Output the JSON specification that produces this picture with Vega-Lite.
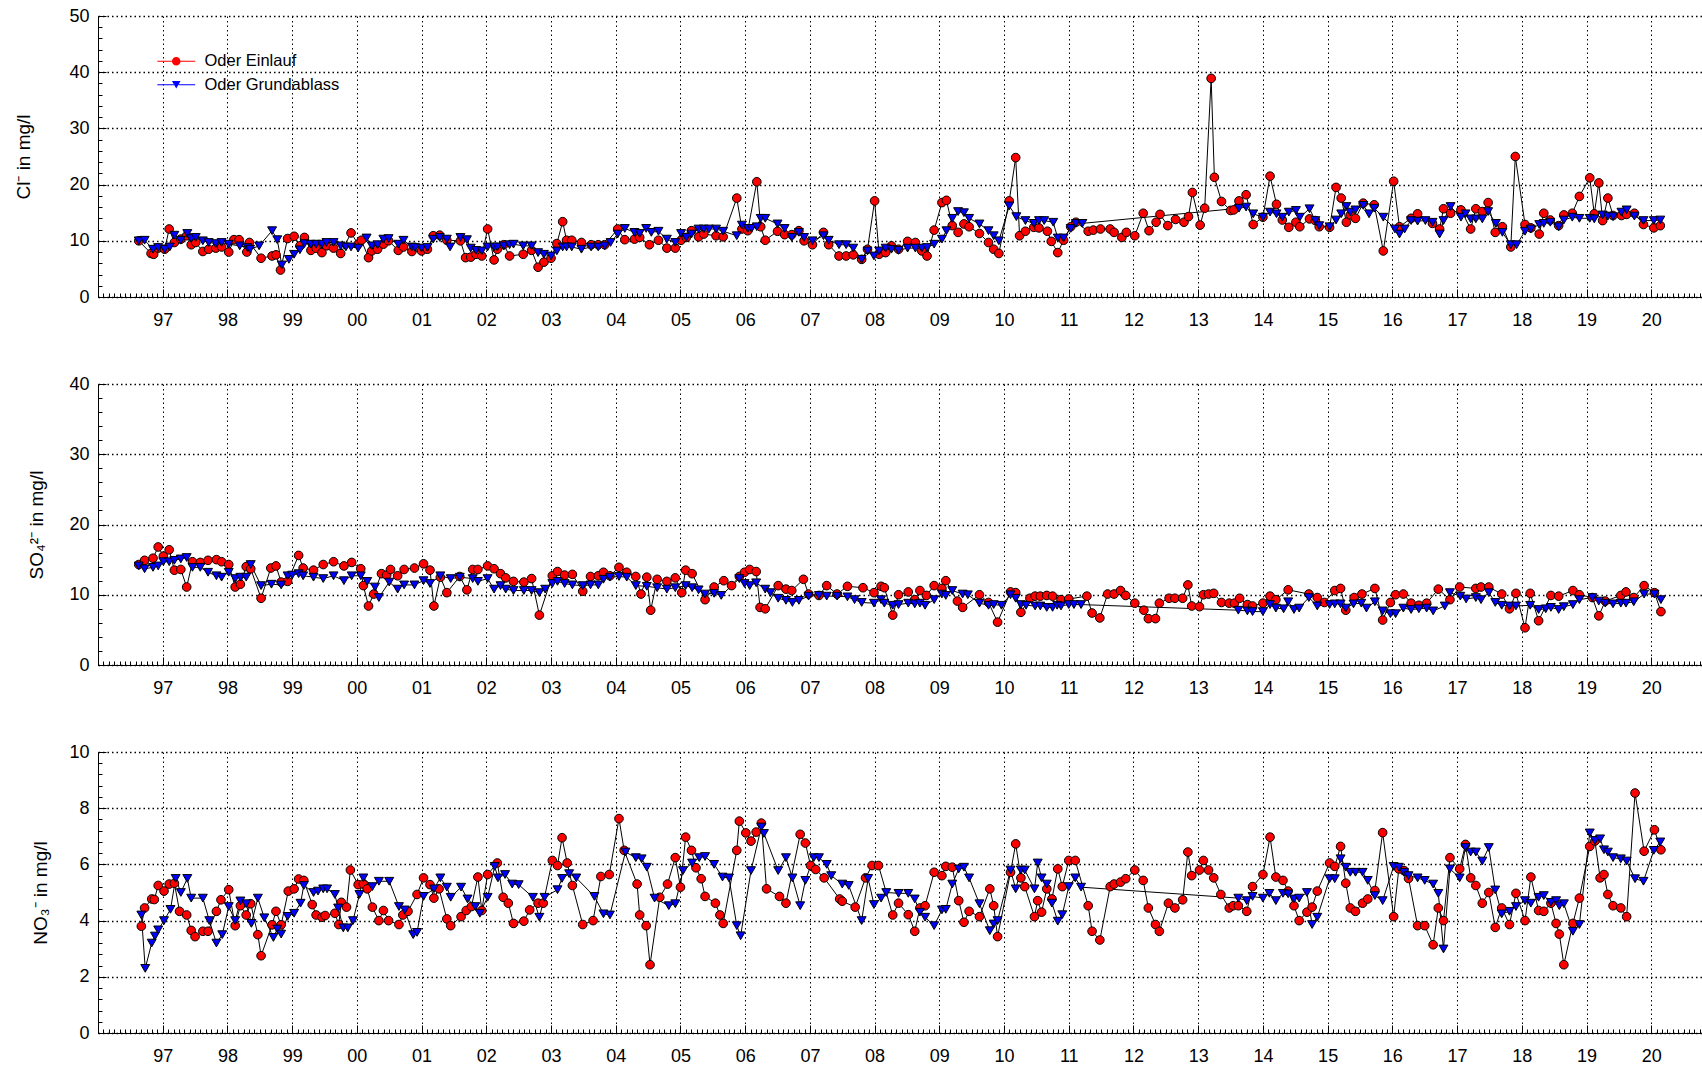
{
"$schema":"https://vega.github.io/schema/vega-lite/v6.json",
"padding":{"left":14,"top":7,"right":0,"bottom":0},
"background":"white",
"config":{"view":{"stroke":null},"font":"Liberation Sans","axis":{"labelColor":"black","titleColor":"black","tickColor":"black","domainColor":"black","labelFontSize":18,"titleFontSize":19,"titleFontWeight":"normal","tickWidth":1,"domainWidth":1}},
"datasets":{
"cl":[
{"s":"E","t":1996.63,"v":10.0},{"s":"E","t":1996.82,"v":7.75},{"s":"E","t":1996.86,"v":7.6},{"s":"E","t":1996.93,"v":8.7},{"s":"E","t":1997.03,"v":8.5},{"s":"E","t":1997.10,"v":12.1},{"s":"E","t":1997.18,"v":9.7},{"s":"E","t":1997.28,"v":10.3},{"s":"E","t":1997.37,"v":10.9},{"s":"E","t":1997.44,"v":9.3},{"s":"E","t":1997.51,"v":9.7},{"s":"E","t":1997.62,"v":8.1},{"s":"E","t":1997.71,"v":8.5},{"s":"E","t":1997.82,"v":8.7},{"s":"E","t":1997.91,"v":8.9},{"s":"E","t":1998.02,"v":8.0},{"s":"E","t":1998.10,"v":10.2},{"s":"E","t":1998.18,"v":10.2},{"s":"E","t":1998.30,"v":8.0},{"s":"E","t":1998.34,"v":9.7},{"s":"E","t":1998.52,"v":6.9},{"s":"E","t":1998.69,"v":7.3},{"s":"E","t":1998.75,"v":7.5},{"s":"E","t":1998.82,"v":4.8},{"s":"E","t":1998.93,"v":10.4},{"s":"E","t":1999.03,"v":10.8},{"s":"E","t":1999.12,"v":9.1},{"s":"E","t":1999.19,"v":10.6},{"s":"E","t":1999.29,"v":8.3},{"s":"E","t":1999.37,"v":8.7},{"s":"E","t":1999.46,"v":7.9},{"s":"E","t":1999.53,"v":9.1},{"s":"E","t":1999.64,"v":8.7},{"s":"E","t":1999.75,"v":7.75},{"s":"E","t":1999.91,"v":11.4},{"s":"E","t":2000.02,"v":9.4},{"s":"E","t":2000.07,"v":10.1},{"s":"E","t":2000.18,"v":7.0},{"s":"E","t":2000.23,"v":8.2},{"s":"E","t":2000.32,"v":8.5},{"s":"E","t":2000.41,"v":9.4},{"s":"E","t":2000.49,"v":10.0},{"s":"E","t":2000.64,"v":8.3},{"s":"E","t":2000.72,"v":8.9},{"s":"E","t":2000.85,"v":8.1},{"s":"E","t":2001.00,"v":8.2},{"s":"E","t":2001.09,"v":8.5},{"s":"E","t":2001.18,"v":10.9},{"s":"E","t":2001.28,"v":11.0},{"s":"E","t":2001.39,"v":10.1},{"s":"E","t":2001.60,"v":10.0},{"s":"E","t":2001.68,"v":7.0},{"s":"E","t":2001.76,"v":7.1},{"s":"E","t":2001.84,"v":7.6},{"s":"E","t":2001.93,"v":7.3},{"s":"E","t":2002.02,"v":12.1},{"s":"E","t":2002.12,"v":6.6},{"s":"E","t":2002.17,"v":8.5},{"s":"E","t":2002.27,"v":9.3},{"s":"E","t":2002.36,"v":7.3},{"s":"E","t":2002.57,"v":7.6},{"s":"E","t":2002.70,"v":8.3},{"s":"E","t":2002.80,"v":5.3},{"s":"E","t":2002.89,"v":6.2},{"s":"E","t":2003.00,"v":6.9},{"s":"E","t":2003.09,"v":9.5},{"s":"E","t":2003.18,"v":13.4},{"s":"E","t":2003.24,"v":10.1},{"s":"E","t":2003.32,"v":10.1},{"s":"E","t":2003.47,"v":9.7},{"s":"E","t":2003.62,"v":9.3},{"s":"E","t":2003.73,"v":9.3},{"s":"E","t":2003.83,"v":9.3},{"s":"E","t":2004.03,"v":12.1},{"s":"E","t":2004.14,"v":10.2},{"s":"E","t":2004.29,"v":10.3},{"s":"E","t":2004.37,"v":10.6},{"s":"E","t":2004.52,"v":9.3},{"s":"E","t":2004.66,"v":10.1},{"s":"E","t":2004.79,"v":8.7},{"s":"E","t":2004.92,"v":8.7},{"s":"E","t":2005.01,"v":10.1},{"s":"E","t":2005.09,"v":10.6},{"s":"E","t":2005.17,"v":11.8},{"s":"E","t":2005.28,"v":10.7},{"s":"E","t":2005.36,"v":11.2},{"s":"E","t":2005.55,"v":10.9},{"s":"E","t":2005.66,"v":10.7},{"s":"E","t":2005.87,"v":17.6},{"s":"E","t":2005.95,"v":12.1},{"s":"E","t":2006.04,"v":11.8},{"s":"E","t":2006.18,"v":20.5},{"s":"E","t":2006.24,"v":12.5},{"s":"E","t":2006.31,"v":10.1},{"s":"E","t":2006.50,"v":11.7},{"s":"E","t":2006.61,"v":11.1},{"s":"E","t":2006.72,"v":11.1},{"s":"E","t":2006.83,"v":11.8},{"s":"E","t":2006.91,"v":10.0},{"s":"E","t":2007.04,"v":9.3},{"s":"E","t":2007.21,"v":11.5},{"s":"E","t":2007.29,"v":9.3},{"s":"E","t":2007.45,"v":7.3},{"s":"E","t":2007.56,"v":7.3},{"s":"E","t":2007.67,"v":7.5},{"s":"E","t":2007.80,"v":6.7},{"s":"E","t":2007.89,"v":8.5},{"s":"E","t":2008.00,"v":17.1},{"s":"E","t":2008.07,"v":7.6},{"s":"E","t":2008.17,"v":7.9},{"s":"E","t":2008.26,"v":9.1},{"s":"E","t":2008.37,"v":8.5},{"s":"E","t":2008.51,"v":9.9},{"s":"E","t":2008.63,"v":9.7},{"s":"E","t":2008.73,"v":8.2},{"s":"E","t":2008.81,"v":7.3},{"s":"E","t":2008.92,"v":11.9},{"s":"E","t":2009.04,"v":16.8},{"s":"E","t":2009.11,"v":17.2},{"s":"E","t":2009.20,"v":12.7},{"s":"E","t":2009.29,"v":11.5},{"s":"E","t":2009.38,"v":13.0},{"s":"E","t":2009.46,"v":12.5},{"s":"E","t":2009.62,"v":11.3},{"s":"E","t":2009.76,"v":9.7},{"s":"E","t":2009.84,"v":8.5},{"s":"E","t":2009.92,"v":7.75},{"s":"E","t":2010.08,"v":17.1},{"s":"E","t":2010.18,"v":24.8},{"s":"E","t":2010.24,"v":10.9},{"s":"E","t":2010.33,"v":11.7},{"s":"E","t":2010.46,"v":12.4},{"s":"E","t":2010.54,"v":12.3},{"s":"E","t":2010.67,"v":11.7},{"s":"E","t":2010.73,"v":9.9},{"s":"E","t":2010.83,"v":7.9},{"s":"E","t":2010.92,"v":10.1},{"s":"E","t":2011.03,"v":12.5},{"s":"E","t":2011.11,"v":13.3},{"s":"E","t":2011.30,"v":11.7},{"s":"E","t":2011.38,"v":11.9},{"s":"E","t":2011.49,"v":12.1},{"s":"E","t":2011.64,"v":12.1},{"s":"E","t":2011.70,"v":11.5},{"s":"E","t":2011.82,"v":10.6},{"s":"E","t":2011.89,"v":11.5},{"s":"E","t":2012.02,"v":10.9},{"s":"E","t":2012.15,"v":14.9},{"s":"E","t":2012.24,"v":11.8},{"s":"E","t":2012.35,"v":13.3},{"s":"E","t":2012.41,"v":14.7},{"s":"E","t":2012.53,"v":12.7},{"s":"E","t":2012.65,"v":13.8},{"s":"E","t":2012.78,"v":13.3},{"s":"E","t":2012.85,"v":14.3},{"s":"E","t":2012.91,"v":18.6},{"s":"E","t":2013.03,"v":12.8},{"s":"E","t":2013.10,"v":15.8},{"s":"E","t":2013.20,"v":38.9},{"s":"E","t":2013.25,"v":21.3},{"s":"E","t":2013.36,"v":17.0},{"s":"E","t":2013.50,"v":15.4},{"s":"E","t":2013.55,"v":15.5},{"s":"E","t":2013.63,"v":17.1},{"s":"E","t":2013.74,"v":18.2},{"s":"E","t":2013.85,"v":12.9},{"s":"E","t":2014.00,"v":14.2},{"s":"E","t":2014.11,"v":21.5},{"s":"E","t":2014.21,"v":16.5},{"s":"E","t":2014.30,"v":13.7},{"s":"E","t":2014.40,"v":12.4},{"s":"E","t":2014.51,"v":13.3},{"s":"E","t":2014.57,"v":12.5},{"s":"E","t":2014.72,"v":13.9},{"s":"E","t":2014.81,"v":13.6},{"s":"E","t":2014.87,"v":12.5},{"s":"E","t":2015.03,"v":12.4},{"s":"E","t":2015.13,"v":19.5},{"s":"E","t":2015.21,"v":17.6},{"s":"E","t":2015.29,"v":13.3},{"s":"E","t":2015.35,"v":14.6},{"s":"E","t":2015.43,"v":14.0},{"s":"E","t":2015.55,"v":16.7},{"s":"E","t":2015.72,"v":16.4},{"s":"E","t":2015.86,"v":8.2},{"s":"E","t":2016.02,"v":20.6},{"s":"E","t":2016.11,"v":12.5},{"s":"E","t":2016.29,"v":14.0},{"s":"E","t":2016.39,"v":14.8},{"s":"E","t":2016.62,"v":13.1},{"s":"E","t":2016.73,"v":12.1},{"s":"E","t":2016.79,"v":15.7},{"s":"E","t":2016.90,"v":14.9},{"s":"E","t":2017.06,"v":15.5},{"s":"E","t":2017.21,"v":12.1},{"s":"E","t":2017.29,"v":15.7},{"s":"E","t":2017.39,"v":15.2},{"s":"E","t":2017.48,"v":16.8},{"s":"E","t":2017.59,"v":11.5},{"s":"E","t":2017.70,"v":12.5},{"s":"E","t":2017.83,"v":8.9},{"s":"E","t":2017.90,"v":25.0},{"s":"E","t":2018.05,"v":12.9},{"s":"E","t":2018.14,"v":12.3},{"s":"E","t":2018.27,"v":11.2},{"s":"E","t":2018.34,"v":14.9},{"s":"E","t":2018.44,"v":13.7},{"s":"E","t":2018.57,"v":12.7},{"s":"E","t":2018.65,"v":14.6},{"s":"E","t":2018.78,"v":14.9},{"s":"E","t":2018.89,"v":17.9},{"s":"E","t":2019.05,"v":21.2},{"s":"E","t":2019.12,"v":14.8},{"s":"E","t":2019.19,"v":20.3},{"s":"E","t":2019.25,"v":13.6},{"s":"E","t":2019.33,"v":17.6},{"s":"E","t":2019.41,"v":14.5},{"s":"E","t":2019.54,"v":14.5},{"s":"E","t":2019.62,"v":14.7},{"s":"E","t":2019.74,"v":14.9},{"s":"E","t":2019.88,"v":12.9},{"s":"E","t":2020.04,"v":12.3},{"s":"E","t":2020.14,"v":12.7},
{"s":"G","t":1996.63,"v":10.0},{"s":"G","t":1996.72,"v":10.1},{"s":"G","t":1996.85,"v":8.5},{"s":"G","t":1996.93,"v":8.8},{"s":"G","t":1997.03,"v":8.5},{"s":"G","t":1997.11,"v":8.9},{"s":"G","t":1997.18,"v":11.0},{"s":"G","t":1997.28,"v":10.1},{"s":"G","t":1997.38,"v":11.3},{"s":"G","t":1997.44,"v":10.4},{"s":"G","t":1997.51,"v":10.6},{"s":"G","t":1997.62,"v":10.0},{"s":"G","t":1997.71,"v":9.7},{"s":"G","t":1997.82,"v":9.5},{"s":"G","t":1997.91,"v":9.7},{"s":"G","t":1998.02,"v":9.4},{"s":"G","t":1998.19,"v":9.1},{"s":"G","t":1998.31,"v":8.8},{"s":"G","t":1998.35,"v":8.5},{"s":"G","t":1998.49,"v":9.1},{"s":"G","t":1998.69,"v":11.8},{"s":"G","t":1998.77,"v":10.2},{"s":"G","t":1998.84,"v":5.7},{"s":"G","t":1998.95,"v":6.7},{"s":"G","t":1999.03,"v":7.6},{"s":"G","t":1999.12,"v":8.4},{"s":"G","t":1999.19,"v":9.5},{"s":"G","t":1999.29,"v":9.4},{"s":"G","t":1999.37,"v":9.4},{"s":"G","t":1999.46,"v":9.4},{"s":"G","t":1999.53,"v":9.7},{"s":"G","t":1999.64,"v":9.7},{"s":"G","t":1999.75,"v":9.1},{"s":"G","t":1999.83,"v":8.9},{"s":"G","t":1999.91,"v":8.9},{"s":"G","t":2000.02,"v":8.7},{"s":"G","t":2000.15,"v":10.5},{"s":"G","t":2000.23,"v":9.1},{"s":"G","t":2000.32,"v":9.3},{"s":"G","t":2000.41,"v":10.3},{"s":"G","t":2000.49,"v":10.4},{"s":"G","t":2000.64,"v":9.4},{"s":"G","t":2000.72,"v":10.1},{"s":"G","t":2000.85,"v":8.9},{"s":"G","t":2000.90,"v":8.8},{"s":"G","t":2001.00,"v":8.7},{"s":"G","t":2001.09,"v":8.8},{"s":"G","t":2001.18,"v":10.3},{"s":"G","t":2001.28,"v":10.6},{"s":"G","t":2001.39,"v":10.3},{"s":"G","t":2001.44,"v":8.9},{"s":"G","t":2001.60,"v":10.6},{"s":"G","t":2001.70,"v":10.2},{"s":"G","t":2001.76,"v":8.7},{"s":"G","t":2001.84,"v":8.3},{"s":"G","t":2001.93,"v":8.2},{"s":"G","t":2002.02,"v":8.9},{"s":"G","t":2002.12,"v":8.9},{"s":"G","t":2002.17,"v":8.9},{"s":"G","t":2002.27,"v":9.1},{"s":"G","t":2002.36,"v":9.3},{"s":"G","t":2002.42,"v":9.4},{"s":"G","t":2002.57,"v":9.1},{"s":"G","t":2002.70,"v":9.1},{"s":"G","t":2002.80,"v":7.9},{"s":"G","t":2002.89,"v":7.6},{"s":"G","t":2003.00,"v":7.3},{"s":"G","t":2003.09,"v":8.2},{"s":"G","t":2003.18,"v":8.9},{"s":"G","t":2003.24,"v":8.9},{"s":"G","t":2003.32,"v":8.9},{"s":"G","t":2003.47,"v":8.5},{"s":"G","t":2003.62,"v":8.9},{"s":"G","t":2003.73,"v":8.9},{"s":"G","t":2003.83,"v":9.1},{"s":"G","t":2003.92,"v":9.7},{"s":"G","t":2004.03,"v":11.2},{"s":"G","t":2004.14,"v":12.2},{"s":"G","t":2004.29,"v":11.5},{"s":"G","t":2004.37,"v":11.3},{"s":"G","t":2004.47,"v":12.2},{"s":"G","t":2004.55,"v":11.5},{"s":"G","t":2004.66,"v":11.7},{"s":"G","t":2004.79,"v":10.3},{"s":"G","t":2004.92,"v":9.7},{"s":"G","t":2005.01,"v":11.3},{"s":"G","t":2005.09,"v":10.6},{"s":"G","t":2005.17,"v":11.2},{"s":"G","t":2005.28,"v":12.1},{"s":"G","t":2005.36,"v":12.1},{"s":"G","t":2005.44,"v":12.1},{"s":"G","t":2005.55,"v":12.1},{"s":"G","t":2005.66,"v":11.7},{"s":"G","t":2005.87,"v":10.9},{"s":"G","t":2005.95,"v":12.8},{"s":"G","t":2006.04,"v":12.2},{"s":"G","t":2006.10,"v":12.2},{"s":"G","t":2006.18,"v":12.5},{"s":"G","t":2006.24,"v":14.0},{"s":"G","t":2006.31,"v":14.0},{"s":"G","t":2006.50,"v":13.0},{"s":"G","t":2006.61,"v":12.2},{"s":"G","t":2006.72,"v":10.6},{"s":"G","t":2006.83,"v":11.5},{"s":"G","t":2006.91,"v":10.6},{"s":"G","t":2007.04,"v":10.0},{"s":"G","t":2007.21,"v":10.9},{"s":"G","t":2007.29,"v":10.1},{"s":"G","t":2007.45,"v":9.3},{"s":"G","t":2007.56,"v":9.3},{"s":"G","t":2007.67,"v":8.7},{"s":"G","t":2007.80,"v":6.7},{"s":"G","t":2007.89,"v":8.2},{"s":"G","t":2007.99,"v":7.3},{"s":"G","t":2008.07,"v":8.2},{"s":"G","t":2008.17,"v":8.7},{"s":"G","t":2008.26,"v":8.5},{"s":"G","t":2008.37,"v":8.3},{"s":"G","t":2008.51,"v":8.7},{"s":"G","t":2008.63,"v":8.7},{"s":"G","t":2008.73,"v":8.7},{"s":"G","t":2008.81,"v":8.8},{"s":"G","t":2008.92,"v":9.4},{"s":"G","t":2009.04,"v":10.3},{"s":"G","t":2009.11,"v":11.8},{"s":"G","t":2009.20,"v":14.0},{"s":"G","t":2009.29,"v":15.2},{"s":"G","t":2009.38,"v":15.0},{"s":"G","t":2009.46,"v":14.0},{"s":"G","t":2009.62,"v":13.0},{"s":"G","t":2009.76,"v":11.8},{"s":"G","t":2009.84,"v":10.9},{"s":"G","t":2009.92,"v":10.0},{"s":"G","t":2010.08,"v":16.2},{"s":"G","t":2010.19,"v":14.3},{"s":"G","t":2010.33,"v":13.6},{"s":"G","t":2010.46,"v":13.1},{"s":"G","t":2010.54,"v":13.6},{"s":"G","t":2010.62,"v":13.6},{"s":"G","t":2010.76,"v":13.3},{"s":"G","t":2010.83,"v":10.5},{"s":"G","t":2010.92,"v":10.5},{"s":"G","t":2011.03,"v":12.2},{"s":"G","t":2011.11,"v":13.1},{"s":"G","t":2011.21,"v":13.1},{"s":"G","t":2013.63,"v":15.8},{"s":"G","t":2013.74,"v":16.0},{"s":"G","t":2013.85,"v":14.8},{"s":"G","t":2014.00,"v":14.2},{"s":"G","t":2014.11,"v":15.1},{"s":"G","t":2014.21,"v":14.8},{"s":"G","t":2014.30,"v":14.2},{"s":"G","t":2014.40,"v":15.1},{"s":"G","t":2014.51,"v":15.4},{"s":"G","t":2014.57,"v":14.2},{"s":"G","t":2014.72,"v":15.7},{"s":"G","t":2014.81,"v":13.6},{"s":"G","t":2014.87,"v":12.7},{"s":"G","t":2015.03,"v":12.5},{"s":"G","t":2015.13,"v":13.7},{"s":"G","t":2015.21,"v":14.8},{"s":"G","t":2015.29,"v":16.1},{"s":"G","t":2015.35,"v":15.1},{"s":"G","t":2015.43,"v":15.5},{"s":"G","t":2015.55,"v":16.3},{"s":"G","t":2015.64,"v":14.8},{"s":"G","t":2015.72,"v":15.8},{"s":"G","t":2015.86,"v":14.2},{"s":"G","t":2016.04,"v":12.1},{"s":"G","t":2016.11,"v":11.2},{"s":"G","t":2016.19,"v":12.1},{"s":"G","t":2016.29,"v":13.6},{"s":"G","t":2016.39,"v":13.5},{"s":"G","t":2016.51,"v":13.6},{"s":"G","t":2016.62,"v":13.3},{"s":"G","t":2016.73,"v":11.2},{"s":"G","t":2016.79,"v":13.6},{"s":"G","t":2016.90,"v":16.1},{"s":"G","t":2017.06,"v":14.2},{"s":"G","t":2017.13,"v":14.8},{"s":"G","t":2017.21,"v":13.9},{"s":"G","t":2017.29,"v":13.9},{"s":"G","t":2017.39,"v":13.9},{"s":"G","t":2017.48,"v":15.2},{"s":"G","t":2017.60,"v":13.1},{"s":"G","t":2017.70,"v":11.5},{"s":"G","t":2017.83,"v":9.3},{"s":"G","t":2017.92,"v":9.3},{"s":"G","t":2018.05,"v":11.7},{"s":"G","t":2018.14,"v":12.1},{"s":"G","t":2018.27,"v":12.9},{"s":"G","t":2018.34,"v":13.1},{"s":"G","t":2018.44,"v":13.3},{"s":"G","t":2018.57,"v":12.5},{"s":"G","t":2018.65,"v":13.7},{"s":"G","t":2018.78,"v":14.2},{"s":"G","t":2018.89,"v":14.0},{"s":"G","t":2019.05,"v":14.0},{"s":"G","t":2019.12,"v":13.9},{"s":"G","t":2019.25,"v":14.6},{"s":"G","t":2019.33,"v":14.4},{"s":"G","t":2019.41,"v":14.3},{"s":"G","t":2019.54,"v":15.1},{"s":"G","t":2019.62,"v":15.5},{"s":"G","t":2019.74,"v":14.4},{"s":"G","t":2019.88,"v":13.6},{"s":"G","t":2020.04,"v":13.6},{"s":"G","t":2020.14,"v":13.7}
],
"so":[
{"s":"E","t":1996.63,"v":14.3},{"s":"E","t":1996.72,"v":14.9},{"s":"E","t":1996.85,"v":15.2},{"s":"E","t":1996.93,"v":16.8},{"s":"E","t":1997.01,"v":15.5},{"s":"E","t":1997.10,"v":16.4},{"s":"E","t":1997.18,"v":13.5},{"s":"E","t":1997.28,"v":13.6},{"s":"E","t":1997.37,"v":11.1},{"s":"E","t":1997.46,"v":14.7},{"s":"E","t":1997.58,"v":14.6},{"s":"E","t":1997.70,"v":14.9},{"s":"E","t":1997.83,"v":15.0},{"s":"E","t":1997.91,"v":14.7},{"s":"E","t":1998.02,"v":14.3},{"s":"E","t":1998.12,"v":11.1},{"s":"E","t":1998.20,"v":11.5},{"s":"E","t":1998.29,"v":14.0},{"s":"E","t":1998.36,"v":13.7},{"s":"E","t":1998.52,"v":9.5},{"s":"E","t":1998.67,"v":13.8},{"s":"E","t":1998.75,"v":14.1},{"s":"E","t":1998.83,"v":11.8},{"s":"E","t":1998.93,"v":11.9},{"s":"E","t":1999.10,"v":15.6},{"s":"E","t":1999.17,"v":13.8},{"s":"E","t":1999.33,"v":13.5},{"s":"E","t":1999.48,"v":14.3},{"s":"E","t":1999.64,"v":14.7},{"s":"E","t":1999.80,"v":14.1},{"s":"E","t":1999.92,"v":14.6},{"s":"E","t":2000.06,"v":13.7},{"s":"E","t":2000.10,"v":11.3},{"s":"E","t":2000.18,"v":8.4},{"s":"E","t":2000.26,"v":10.1},{"s":"E","t":2000.38,"v":13.0},{"s":"E","t":2000.46,"v":12.8},{"s":"E","t":2000.52,"v":13.6},{"s":"E","t":2000.63,"v":12.7},{"s":"E","t":2000.73,"v":13.6},{"s":"E","t":2000.89,"v":13.8},{"s":"E","t":2001.03,"v":14.4},{"s":"E","t":2001.13,"v":13.5},{"s":"E","t":2001.19,"v":8.4},{"s":"E","t":2001.29,"v":12.5},{"s":"E","t":2001.39,"v":10.3},{"s":"E","t":2001.59,"v":12.6},{"s":"E","t":2001.70,"v":10.7},{"s":"E","t":2001.79,"v":13.6},{"s":"E","t":2001.87,"v":13.6},{"s":"E","t":2002.02,"v":14.1},{"s":"E","t":2002.12,"v":13.7},{"s":"E","t":2002.22,"v":13.0},{"s":"E","t":2002.30,"v":12.4},{"s":"E","t":2002.42,"v":11.9},{"s":"E","t":2002.58,"v":11.8},{"s":"E","t":2002.70,"v":12.3},{"s":"E","t":2002.82,"v":7.1},{"s":"E","t":2003.02,"v":12.7},{"s":"E","t":2003.10,"v":13.3},{"s":"E","t":2003.21,"v":12.8},{"s":"E","t":2003.33,"v":12.9},{"s":"E","t":2003.49,"v":10.5},{"s":"E","t":2003.61,"v":12.6},{"s":"E","t":2003.73,"v":12.7},{"s":"E","t":2003.81,"v":13.2},{"s":"E","t":2003.91,"v":12.7},{"s":"E","t":2004.05,"v":13.9},{"s":"E","t":2004.17,"v":13.2},{"s":"E","t":2004.31,"v":12.6},{"s":"E","t":2004.39,"v":10.1},{"s":"E","t":2004.48,"v":12.5},{"s":"E","t":2004.54,"v":7.8},{"s":"E","t":2004.64,"v":12.2},{"s":"E","t":2004.79,"v":11.9},{"s":"E","t":2004.92,"v":12.4},{"s":"E","t":2005.02,"v":10.3},{"s":"E","t":2005.08,"v":13.5},{"s":"E","t":2005.18,"v":13.0},{"s":"E","t":2005.38,"v":9.3},{"s":"E","t":2005.52,"v":11.1},{"s":"E","t":2005.67,"v":12.0},{"s":"E","t":2005.79,"v":11.3},{"s":"E","t":2005.91,"v":12.6},{"s":"E","t":2005.99,"v":13.2},{"s":"E","t":2006.07,"v":13.6},{"s":"E","t":2006.17,"v":13.3},{"s":"E","t":2006.23,"v":8.2},{"s":"E","t":2006.31,"v":8.0},{"s":"E","t":2006.51,"v":11.3},{"s":"E","t":2006.63,"v":10.8},{"s":"E","t":2006.72,"v":10.6},{"s":"E","t":2006.90,"v":12.2},{"s":"E","t":2006.98,"v":10.1},{"s":"E","t":2007.14,"v":9.9},{"s":"E","t":2007.26,"v":11.3},{"s":"E","t":2007.42,"v":10.1},{"s":"E","t":2007.58,"v":11.2},{"s":"E","t":2007.82,"v":11.0},{"s":"E","t":2007.99,"v":10.3},{"s":"E","t":2008.10,"v":11.2},{"s":"E","t":2008.15,"v":11.0},{"s":"E","t":2008.28,"v":7.1},{"s":"E","t":2008.37,"v":10.0},{"s":"E","t":2008.52,"v":10.4},{"s":"E","t":2008.62,"v":9.3},{"s":"E","t":2008.70,"v":10.6},{"s":"E","t":2008.80,"v":9.9},{"s":"E","t":2008.92,"v":11.3},{"s":"E","t":2009.04,"v":10.9},{"s":"E","t":2009.10,"v":12.0},{"s":"E","t":2009.28,"v":9.1},{"s":"E","t":2009.36,"v":8.2},{"s":"E","t":2009.62,"v":10.0},{"s":"E","t":2009.76,"v":8.9},{"s":"E","t":2009.90,"v":6.1},{"s":"E","t":2010.10,"v":10.4},{"s":"E","t":2010.18,"v":10.3},{"s":"E","t":2010.26,"v":7.5},{"s":"E","t":2010.40,"v":9.5},{"s":"E","t":2010.48,"v":9.8},{"s":"E","t":2010.56,"v":9.8},{"s":"E","t":2010.66,"v":9.9},{"s":"E","t":2010.75,"v":9.8},{"s":"E","t":2010.88,"v":9.3},{"s":"E","t":2011.00,"v":9.4},{"s":"E","t":2011.28,"v":9.8},{"s":"E","t":2011.36,"v":7.4},{"s":"E","t":2011.48,"v":6.7},{"s":"E","t":2011.60,"v":10.1},{"s":"E","t":2011.70,"v":10.1},{"s":"E","t":2011.80,"v":10.6},{"s":"E","t":2011.88,"v":9.9},{"s":"E","t":2012.02,"v":8.8},{"s":"E","t":2012.16,"v":7.8},{"s":"E","t":2012.23,"v":6.6},{"s":"E","t":2012.34,"v":6.6},{"s":"E","t":2012.40,"v":8.8},{"s":"E","t":2012.55,"v":9.5},{"s":"E","t":2012.64,"v":9.5},{"s":"E","t":2012.76,"v":9.5},{"s":"E","t":2012.84,"v":11.4},{"s":"E","t":2012.90,"v":8.4},{"s":"E","t":2013.02,"v":8.3},{"s":"E","t":2013.08,"v":10.0},{"s":"E","t":2013.16,"v":10.1},{"s":"E","t":2013.24,"v":10.2},{"s":"E","t":2013.36,"v":8.9},{"s":"E","t":2013.48,"v":8.8},{"s":"E","t":2013.56,"v":8.8},{"s":"E","t":2013.64,"v":9.5},{"s":"E","t":2013.76,"v":8.6},{"s":"E","t":2013.84,"v":8.4},{"s":"E","t":2014.00,"v":8.8},{"s":"E","t":2014.11,"v":9.8},{"s":"E","t":2014.20,"v":9.3},{"s":"E","t":2014.39,"v":10.7},{"s":"E","t":2014.71,"v":10.1},{"s":"E","t":2014.84,"v":9.6},{"s":"E","t":2014.95,"v":8.9},{"s":"E","t":2015.11,"v":10.6},{"s":"E","t":2015.20,"v":10.9},{"s":"E","t":2015.28,"v":7.8},{"s":"E","t":2015.41,"v":9.6},{"s":"E","t":2015.53,"v":10.1},{"s":"E","t":2015.73,"v":10.9},{"s":"E","t":2015.85,"v":6.4},{"s":"E","t":2015.97,"v":8.9},{"s":"E","t":2016.05,"v":10.0},{"s":"E","t":2016.17,"v":10.1},{"s":"E","t":2016.29,"v":8.8},{"s":"E","t":2016.41,"v":8.5},{"s":"E","t":2016.53,"v":8.8},{"s":"E","t":2016.71,"v":10.8},{"s":"E","t":2016.89,"v":9.3},{"s":"E","t":2017.04,"v":11.1},{"s":"E","t":2017.29,"v":10.9},{"s":"E","t":2017.37,"v":11.1},{"s":"E","t":2017.49,"v":11.1},{"s":"E","t":2017.69,"v":10.1},{"s":"E","t":2017.81,"v":8.0},{"s":"E","t":2017.91,"v":10.2},{"s":"E","t":2018.05,"v":5.3},{"s":"E","t":2018.13,"v":10.2},{"s":"E","t":2018.26,"v":6.3},{"s":"E","t":2018.45,"v":9.9},{"s":"E","t":2018.57,"v":9.8},{"s":"E","t":2018.79,"v":10.6},{"s":"E","t":2018.89,"v":10.0},{"s":"E","t":2019.09,"v":9.6},{"s":"E","t":2019.19,"v":7.0},{"s":"E","t":2019.29,"v":9.1},{"s":"E","t":2019.53,"v":9.9},{"s":"E","t":2019.61,"v":10.4},{"s":"E","t":2019.73,"v":9.6},{"s":"E","t":2019.89,"v":11.3},{"s":"E","t":2020.05,"v":10.3},{"s":"E","t":2020.15,"v":7.6},
{"s":"G","t":1996.63,"v":14.1},{"s":"G","t":1996.72,"v":13.7},{"s":"G","t":1996.85,"v":13.9},{"s":"G","t":1996.93,"v":14.1},{"s":"G","t":1997.01,"v":14.7},{"s":"G","t":1997.10,"v":14.7},{"s":"G","t":1997.18,"v":14.9},{"s":"G","t":1997.28,"v":15.1},{"s":"G","t":1997.37,"v":15.3},{"s":"G","t":1997.46,"v":13.9},{"s":"G","t":1997.58,"v":13.9},{"s":"G","t":1997.70,"v":13.2},{"s":"G","t":1997.83,"v":12.7},{"s":"G","t":1997.91,"v":12.5},{"s":"G","t":1998.02,"v":13.2},{"s":"G","t":1998.12,"v":12.3},{"s":"G","t":1998.20,"v":12.5},{"s":"G","t":1998.29,"v":12.5},{"s":"G","t":1998.36,"v":14.3},{"s":"G","t":1998.52,"v":11.3},{"s":"G","t":1998.68,"v":11.5},{"s":"G","t":1998.83,"v":11.4},{"s":"G","t":1998.93,"v":12.7},{"s":"G","t":1999.00,"v":12.8},{"s":"G","t":1999.10,"v":13.0},{"s":"G","t":1999.17,"v":12.7},{"s":"G","t":1999.33,"v":12.5},{"s":"G","t":1999.48,"v":12.3},{"s":"G","t":1999.64,"v":12.7},{"s":"G","t":1999.80,"v":12.0},{"s":"G","t":1999.92,"v":12.7},{"s":"G","t":2000.06,"v":12.7},{"s":"G","t":2000.16,"v":11.9},{"s":"G","t":2000.28,"v":11.1},{"s":"G","t":2000.34,"v":9.6},{"s":"G","t":2000.50,"v":11.8},{"s":"G","t":2000.63,"v":10.8},{"s":"G","t":2000.73,"v":11.4},{"s":"G","t":2000.89,"v":11.4},{"s":"G","t":2001.03,"v":12.0},{"s":"G","t":2001.13,"v":11.6},{"s":"G","t":2001.29,"v":12.7},{"s":"G","t":2001.45,"v":12.3},{"s":"G","t":2001.59,"v":12.5},{"s":"G","t":2001.79,"v":12.3},{"s":"G","t":2001.87,"v":11.9},{"s":"G","t":2002.02,"v":12.3},{"s":"G","t":2002.12,"v":10.8},{"s":"G","t":2002.22,"v":11.3},{"s":"G","t":2002.30,"v":10.8},{"s":"G","t":2002.42,"v":10.6},{"s":"G","t":2002.58,"v":10.6},{"s":"G","t":2002.70,"v":10.6},{"s":"G","t":2002.82,"v":10.3},{"s":"G","t":2002.91,"v":10.8},{"s":"G","t":2003.02,"v":11.6},{"s":"G","t":2003.10,"v":11.9},{"s":"G","t":2003.21,"v":11.6},{"s":"G","t":2003.33,"v":11.4},{"s":"G","t":2003.49,"v":11.3},{"s":"G","t":2003.61,"v":11.4},{"s":"G","t":2003.73,"v":11.4},{"s":"G","t":2003.81,"v":12.2},{"s":"G","t":2003.91,"v":12.5},{"s":"G","t":2004.05,"v":12.6},{"s":"G","t":2004.17,"v":12.5},{"s":"G","t":2004.31,"v":11.3},{"s":"G","t":2004.48,"v":11.2},{"s":"G","t":2004.64,"v":11.0},{"s":"G","t":2004.79,"v":10.8},{"s":"G","t":2004.92,"v":11.0},{"s":"G","t":2005.08,"v":11.3},{"s":"G","t":2005.18,"v":11.0},{"s":"G","t":2005.28,"v":10.7},{"s":"G","t":2005.38,"v":10.1},{"s":"G","t":2005.52,"v":10.2},{"s":"G","t":2005.63,"v":9.9},{"s":"G","t":2005.91,"v":12.3},{"s":"G","t":2005.99,"v":11.6},{"s":"G","t":2006.07,"v":11.3},{"s":"G","t":2006.17,"v":11.7},{"s":"G","t":2006.31,"v":10.8},{"s":"G","t":2006.39,"v":10.3},{"s":"G","t":2006.51,"v":9.5},{"s":"G","t":2006.63,"v":9.2},{"s":"G","t":2006.73,"v":8.9},{"s":"G","t":2006.83,"v":9.2},{"s":"G","t":2006.98,"v":9.8},{"s":"G","t":2007.14,"v":9.9},{"s":"G","t":2007.26,"v":9.8},{"s":"G","t":2007.42,"v":9.8},{"s":"G","t":2007.58,"v":9.7},{"s":"G","t":2007.69,"v":9.3},{"s":"G","t":2007.80,"v":8.9},{"s":"G","t":2007.99,"v":8.8},{"s":"G","t":2008.10,"v":9.3},{"s":"G","t":2008.15,"v":8.8},{"s":"G","t":2008.28,"v":8.5},{"s":"G","t":2008.37,"v":8.6},{"s":"G","t":2008.52,"v":8.8},{"s":"G","t":2008.62,"v":8.7},{"s":"G","t":2008.70,"v":8.8},{"s":"G","t":2008.78,"v":8.5},{"s":"G","t":2008.92,"v":9.3},{"s":"G","t":2009.04,"v":10.1},{"s":"G","t":2009.10,"v":9.9},{"s":"G","t":2009.20,"v":10.6},{"s":"G","t":2009.36,"v":10.1},{"s":"G","t":2009.44,"v":10.0},{"s":"G","t":2009.62,"v":8.8},{"s":"G","t":2009.76,"v":8.5},{"s":"G","t":2009.84,"v":8.6},{"s":"G","t":2009.96,"v":8.5},{"s":"G","t":2010.10,"v":10.0},{"s":"G","t":2010.18,"v":9.5},{"s":"G","t":2010.26,"v":8.6},{"s":"G","t":2010.34,"v":8.5},{"s":"G","t":2010.48,"v":8.4},{"s":"G","t":2010.56,"v":8.4},{"s":"G","t":2010.66,"v":8.2},{"s":"G","t":2010.75,"v":8.2},{"s":"G","t":2010.82,"v":8.5},{"s":"G","t":2010.88,"v":8.4},{"s":"G","t":2011.00,"v":8.6},{"s":"G","t":2011.08,"v":8.6},{"s":"G","t":2011.19,"v":8.6},{"s":"G","t":2013.62,"v":7.8},{"s":"G","t":2013.76,"v":7.7},{"s":"G","t":2013.84,"v":7.6},{"s":"G","t":2014.00,"v":7.6},{"s":"G","t":2014.11,"v":8.6},{"s":"G","t":2014.20,"v":8.1},{"s":"G","t":2014.32,"v":8.0},{"s":"G","t":2014.39,"v":9.0},{"s":"G","t":2014.48,"v":7.9},{"s":"G","t":2014.56,"v":8.1},{"s":"G","t":2014.71,"v":9.6},{"s":"G","t":2014.84,"v":8.4},{"s":"G","t":2015.03,"v":8.6},{"s":"G","t":2015.11,"v":8.7},{"s":"G","t":2015.20,"v":8.7},{"s":"G","t":2015.28,"v":8.1},{"s":"G","t":2015.40,"v":8.7},{"s":"G","t":2015.52,"v":8.8},{"s":"G","t":2015.60,"v":8.1},{"s":"G","t":2015.73,"v":9.0},{"s":"G","t":2015.85,"v":7.7},{"s":"G","t":2015.97,"v":7.3},{"s":"G","t":2016.05,"v":7.3},{"s":"G","t":2016.17,"v":8.1},{"s":"G","t":2016.29,"v":7.9},{"s":"G","t":2016.41,"v":8.0},{"s":"G","t":2016.53,"v":8.1},{"s":"G","t":2016.63,"v":7.7},{"s":"G","t":2016.81,"v":8.4},{"s":"G","t":2016.89,"v":10.3},{"s":"G","t":2017.05,"v":9.8},{"s":"G","t":2017.14,"v":9.4},{"s":"G","t":2017.29,"v":9.6},{"s":"G","t":2017.37,"v":9.3},{"s":"G","t":2017.49,"v":10.3},{"s":"G","t":2017.59,"v":8.9},{"s":"G","t":2017.69,"v":8.5},{"s":"G","t":2017.81,"v":8.4},{"s":"G","t":2017.91,"v":8.4},{"s":"G","t":2018.13,"v":8.5},{"s":"G","t":2018.26,"v":7.9},{"s":"G","t":2018.37,"v":8.0},{"s":"G","t":2018.45,"v":8.2},{"s":"G","t":2018.57,"v":7.9},{"s":"G","t":2018.65,"v":8.3},{"s":"G","t":2018.79,"v":8.6},{"s":"G","t":2018.89,"v":9.3},{"s":"G","t":2019.09,"v":9.6},{"s":"G","t":2019.19,"v":9.1},{"s":"G","t":2019.29,"v":8.8},{"s":"G","t":2019.41,"v":8.7},{"s":"G","t":2019.53,"v":8.8},{"s":"G","t":2019.61,"v":8.8},{"s":"G","t":2019.73,"v":9.0},{"s":"G","t":2019.89,"v":10.1},{"s":"G","t":2020.05,"v":10.1},{"s":"G","t":2020.15,"v":9.3}
],
"no":[
{"s":"E","t":1996.67,"v":3.8},{"s":"E","t":1996.72,"v":4.45},{"s":"E","t":1996.83,"v":4.77},{"s":"E","t":1996.87,"v":4.75},{"s":"E","t":1996.93,"v":5.25},{"s":"E","t":1997.02,"v":5.05},{"s":"E","t":1997.10,"v":5.3},{"s":"E","t":1997.18,"v":5.33},{"s":"E","t":1997.26,"v":4.33},{"s":"E","t":1997.37,"v":4.2},{"s":"E","t":1997.44,"v":3.65},{"s":"E","t":1997.50,"v":3.43},{"s":"E","t":1997.62,"v":3.62},{"s":"E","t":1997.70,"v":3.62},{"s":"E","t":1997.83,"v":4.33},{"s":"E","t":1997.90,"v":4.74},{"s":"E","t":1998.02,"v":5.1},{"s":"E","t":1998.12,"v":3.82},{"s":"E","t":1998.20,"v":4.53},{"s":"E","t":1998.29,"v":4.2},{"s":"E","t":1998.36,"v":4.6},{"s":"E","t":1998.47,"v":3.5},{"s":"E","t":1998.52,"v":2.75},{"s":"E","t":1998.69,"v":3.85},{"s":"E","t":1998.75,"v":4.33},{"s":"E","t":1998.83,"v":3.85},{"s":"E","t":1998.94,"v":5.05},{"s":"E","t":1999.03,"v":5.13},{"s":"E","t":1999.10,"v":5.48},{"s":"E","t":1999.18,"v":5.43},{"s":"E","t":1999.31,"v":4.57},{"s":"E","t":1999.37,"v":4.2},{"s":"E","t":1999.46,"v":4.12},{"s":"E","t":1999.51,"v":4.18},{"s":"E","t":1999.66,"v":4.26},{"s":"E","t":1999.72,"v":3.86},{"s":"E","t":1999.76,"v":4.65},{"s":"E","t":1999.84,"v":4.48},{"s":"E","t":1999.90,"v":5.8},{"s":"E","t":2000.02,"v":5.28},{"s":"E","t":2000.10,"v":5.3},{"s":"E","t":2000.16,"v":5.13},{"s":"E","t":2000.24,"v":4.48},{"s":"E","t":2000.34,"v":4.0},{"s":"E","t":2000.41,"v":4.36},{"s":"E","t":2000.49,"v":4.0},{"s":"E","t":2000.65,"v":3.86},{"s":"E","t":2000.71,"v":4.2},{"s":"E","t":2000.79,"v":4.33},{"s":"E","t":2000.93,"v":4.93},{"s":"E","t":2001.03,"v":5.52},{"s":"E","t":2001.13,"v":5.28},{"s":"E","t":2001.19,"v":4.8},{"s":"E","t":2001.27,"v":5.13},{"s":"E","t":2001.39,"v":4.06},{"s":"E","t":2001.45,"v":3.82},{"s":"E","t":2001.61,"v":4.14},{"s":"E","t":2001.69,"v":4.36},{"s":"E","t":2001.77,"v":4.5},{"s":"E","t":2001.87,"v":5.55},{"s":"E","t":2001.93,"v":4.36},{"s":"E","t":2002.02,"v":5.64},{"s":"E","t":2002.17,"v":6.05},{"s":"E","t":2002.26,"v":4.83},{"s":"E","t":2002.34,"v":4.62},{"s":"E","t":2002.42,"v":3.9},{"s":"E","t":2002.58,"v":3.98},{"s":"E","t":2002.67,"v":4.38},{"s":"E","t":2002.80,"v":4.62},{"s":"E","t":2002.88,"v":4.62},{"s":"E","t":2003.02,"v":6.14},{"s":"E","t":2003.10,"v":5.96},{"s":"E","t":2003.17,"v":6.95},{"s":"E","t":2003.25,"v":6.05},{"s":"E","t":2003.33,"v":5.25},{"s":"E","t":2003.49,"v":3.86},{"s":"E","t":2003.65,"v":4.0},{"s":"E","t":2003.77,"v":5.57},{"s":"E","t":2003.90,"v":5.64},{"s":"E","t":2004.05,"v":7.63},{"s":"E","t":2004.13,"v":6.5},{"s":"E","t":2004.33,"v":5.3},{"s":"E","t":2004.37,"v":4.2},{"s":"E","t":2004.47,"v":3.82},{"s":"E","t":2004.53,"v":2.43},{"s":"E","t":2004.68,"v":4.83},{"s":"E","t":2004.80,"v":5.3},{"s":"E","t":2004.92,"v":6.24},{"s":"E","t":2005.00,"v":5.19},{"s":"E","t":2005.08,"v":6.97},{"s":"E","t":2005.17,"v":6.5},{"s":"E","t":2005.24,"v":5.88},{"s":"E","t":2005.32,"v":5.49},{"s":"E","t":2005.38,"v":4.86},{"s":"E","t":2005.54,"v":4.62},{"s":"E","t":2005.61,"v":4.2},{"s":"E","t":2005.66,"v":3.9},{"s":"E","t":2005.87,"v":6.5},{"s":"E","t":2005.91,"v":7.54},{"s":"E","t":2006.01,"v":7.12},{"s":"E","t":2006.09,"v":6.83},{"s":"E","t":2006.17,"v":7.15},{"s":"E","t":2006.25,"v":7.47},{"s":"E","t":2006.33,"v":5.13},{"s":"E","t":2006.53,"v":4.86},{"s":"E","t":2006.63,"v":4.62},{"s":"E","t":2006.85,"v":7.07},{"s":"E","t":2006.93,"v":6.76},{"s":"E","t":2007.01,"v":5.96},{"s":"E","t":2007.09,"v":5.82},{"s":"E","t":2007.22,"v":5.52},{"s":"E","t":2007.46,"v":4.77},{"s":"E","t":2007.50,"v":4.69},{"s":"E","t":2007.70,"v":4.48},{"s":"E","t":2007.86,"v":5.52},{"s":"E","t":2007.96,"v":5.96},{"s":"E","t":2008.06,"v":5.96},{"s":"E","t":2008.28,"v":4.2},{"s":"E","t":2008.37,"v":4.62},{"s":"E","t":2008.52,"v":4.21},{"s":"E","t":2008.62,"v":3.62},{"s":"E","t":2008.70,"v":4.45},{"s":"E","t":2008.78,"v":4.53},{"s":"E","t":2008.92,"v":5.72},{"s":"E","t":2009.04,"v":5.6},{"s":"E","t":2009.10,"v":5.93},{"s":"E","t":2009.20,"v":5.9},{"s":"E","t":2009.30,"v":4.71},{"s":"E","t":2009.38,"v":3.94},{"s":"E","t":2009.46,"v":4.33},{"s":"E","t":2009.62,"v":4.14},{"s":"E","t":2009.78,"v":5.13},{"s":"E","t":2009.84,"v":4.53},{"s":"E","t":2009.90,"v":3.43},{"s":"E","t":2010.10,"v":5.72},{"s":"E","t":2010.18,"v":6.73},{"s":"E","t":2010.26,"v":5.52},{"s":"E","t":2010.32,"v":5.21},{"s":"E","t":2010.47,"v":4.14},{"s":"E","t":2010.52,"v":4.71},{"s":"E","t":2010.58,"v":4.3},{"s":"E","t":2010.66,"v":5.13},{"s":"E","t":2010.74,"v":4.77},{"s":"E","t":2010.83,"v":5.84},{"s":"E","t":2010.90,"v":5.21},{"s":"E","t":2011.00,"v":6.14},{"s":"E","t":2011.10,"v":6.14},{"s":"E","t":2011.30,"v":4.53},{"s":"E","t":2011.36,"v":3.62},{"s":"E","t":2011.48,"v":3.31},{"s":"E","t":2011.64,"v":5.21},{"s":"E","t":2011.70,"v":5.3},{"s":"E","t":2011.80,"v":5.37},{"s":"E","t":2011.88,"v":5.49},{"s":"E","t":2012.02,"v":5.8},{"s":"E","t":2012.15,"v":5.43},{"s":"E","t":2012.23,"v":4.45},{"s":"E","t":2012.34,"v":3.86},{"s":"E","t":2012.40,"v":3.62},{"s":"E","t":2012.54,"v":4.62},{"s":"E","t":2012.64,"v":4.45},{"s":"E","t":2012.76,"v":4.74},{"s":"E","t":2012.84,"v":6.44},{"s":"E","t":2012.90,"v":5.6},{"s":"E","t":2013.02,"v":5.8},{"s":"E","t":2013.08,"v":6.14},{"s":"E","t":2013.16,"v":5.8},{"s":"E","t":2013.24,"v":5.52},{"s":"E","t":2013.35,"v":4.93},{"s":"E","t":2013.48,"v":4.45},{"s":"E","t":2013.54,"v":4.53},{"s":"E","t":2013.62,"v":4.53},{"s":"E","t":2013.75,"v":4.33},{"s":"E","t":2013.84,"v":5.21},{"s":"E","t":2014.00,"v":5.64},{"s":"E","t":2014.11,"v":6.97},{"s":"E","t":2014.20,"v":5.55},{"s":"E","t":2014.31,"v":5.43},{"s":"E","t":2014.39,"v":5.05},{"s":"E","t":2014.48,"v":4.53},{"s":"E","t":2014.56,"v":4.0},{"s":"E","t":2014.68,"v":4.3},{"s":"E","t":2014.76,"v":4.48},{"s":"E","t":2014.84,"v":5.05},{"s":"E","t":2015.03,"v":6.05},{"s":"E","t":2015.11,"v":5.93},{"s":"E","t":2015.20,"v":6.64},{"s":"E","t":2015.28,"v":5.33},{"s":"E","t":2015.35,"v":4.45},{"s":"E","t":2015.43,"v":4.33},{"s":"E","t":2015.54,"v":4.62},{"s":"E","t":2015.62,"v":4.77},{"s":"E","t":2015.73,"v":5.07},{"s":"E","t":2015.85,"v":7.13},{"s":"E","t":2016.02,"v":4.14},{"s":"E","t":2016.10,"v":5.84},{"s":"E","t":2016.18,"v":5.78},{"s":"E","t":2016.25,"v":5.5},{"s":"E","t":2016.39,"v":3.82},{"s":"E","t":2016.50,"v":3.82},{"s":"E","t":2016.63,"v":3.14},{"s":"E","t":2016.71,"v":4.45},{"s":"E","t":2016.79,"v":4.0},{"s":"E","t":2016.89,"v":6.24},{"s":"E","t":2017.04,"v":5.84},{"s":"E","t":2017.13,"v":6.71},{"s":"E","t":2017.21,"v":5.52},{"s":"E","t":2017.29,"v":5.25},{"s":"E","t":2017.39,"v":4.62},{"s":"E","t":2017.49,"v":5.0},{"s":"E","t":2017.59,"v":3.76},{"s":"E","t":2017.69,"v":4.45},{"s":"E","t":2017.81,"v":3.86},{"s":"E","t":2017.91,"v":4.97},{"s":"E","t":2018.05,"v":4.0},{"s":"E","t":2018.14,"v":5.55},{"s":"E","t":2018.26,"v":4.36},{"s":"E","t":2018.34,"v":4.33},{"s":"E","t":2018.45,"v":4.62},{"s":"E","t":2018.53,"v":3.9},{"s":"E","t":2018.58,"v":3.52},{"s":"E","t":2018.65,"v":2.43},{"s":"E","t":2018.79,"v":3.9},{"s":"E","t":2018.89,"v":4.8},{"s":"E","t":2019.05,"v":6.64},{"s":"E","t":2019.13,"v":6.83},{"s":"E","t":2019.21,"v":5.52},{"s":"E","t":2019.27,"v":5.64},{"s":"E","t":2019.33,"v":4.93},{"s":"E","t":2019.41,"v":4.53},{"s":"E","t":2019.53,"v":4.45},{"s":"E","t":2019.62,"v":4.14},{"s":"E","t":2019.75,"v":8.54},{"s":"E","t":2019.89,"v":6.47},{"s":"E","t":2020.05,"v":7.23},{"s":"E","t":2020.15,"v":6.52},
{"s":"G","t":1996.67,"v":4.2},{"s":"G","t":1996.73,"v":2.3},{"s":"G","t":1996.83,"v":3.2},{"s":"G","t":1996.88,"v":3.45},{"s":"G","t":1996.93,"v":3.67},{"s":"G","t":1997.02,"v":4.0},{"s":"G","t":1997.12,"v":4.4},{"s":"G","t":1997.20,"v":5.5},{"s":"G","t":1997.28,"v":5.0},{"s":"G","t":1997.38,"v":5.5},{"s":"G","t":1997.44,"v":4.8},{"s":"G","t":1997.62,"v":4.8},{"s":"G","t":1997.72,"v":4.0},{"s":"G","t":1997.83,"v":3.2},{"s":"G","t":1997.92,"v":3.5},{"s":"G","t":1998.02,"v":4.5},{"s":"G","t":1998.12,"v":4.0},{"s":"G","t":1998.20,"v":4.7},{"s":"G","t":1998.29,"v":4.6},{"s":"G","t":1998.37,"v":3.9},{"s":"G","t":1998.47,"v":4.8},{"s":"G","t":1998.57,"v":4.1},{"s":"G","t":1998.71,"v":3.4},{"s":"G","t":1998.77,"v":3.7},{"s":"G","t":1998.83,"v":3.52},{"s":"G","t":1998.93,"v":4.15},{"s":"G","t":1999.03,"v":4.26},{"s":"G","t":1999.13,"v":4.62},{"s":"G","t":1999.18,"v":5.25},{"s":"G","t":1999.33,"v":5.0},{"s":"G","t":1999.40,"v":5.05},{"s":"G","t":1999.48,"v":5.13},{"s":"G","t":1999.54,"v":5.13},{"s":"G","t":1999.66,"v":4.93},{"s":"G","t":1999.71,"v":4.45},{"s":"G","t":1999.79,"v":3.74},{"s":"G","t":1999.86,"v":3.74},{"s":"G","t":1999.94,"v":4.0},{"s":"G","t":2000.04,"v":4.93},{"s":"G","t":2000.10,"v":5.52},{"s":"G","t":2000.24,"v":5.21},{"s":"G","t":2000.34,"v":5.4},{"s":"G","t":2000.50,"v":5.4},{"s":"G","t":2000.65,"v":4.5},{"s":"G","t":2000.74,"v":4.38},{"s":"G","t":2000.87,"v":3.5},{"s":"G","t":2000.93,"v":3.58},{"s":"G","t":2001.03,"v":4.86},{"s":"G","t":2001.19,"v":5.13},{"s":"G","t":2001.29,"v":5.52},{"s":"G","t":2001.39,"v":5.19},{"s":"G","t":2001.45,"v":4.83},{"s":"G","t":2001.61,"v":5.19},{"s":"G","t":2001.71,"v":4.77},{"s":"G","t":2001.83,"v":4.5},{"s":"G","t":2001.90,"v":4.26},{"s":"G","t":2002.02,"v":4.83},{"s":"G","t":2002.13,"v":5.93},{"s":"G","t":2002.18,"v":5.52},{"s":"G","t":2002.29,"v":5.64},{"s":"G","t":2002.40,"v":5.3},{"s":"G","t":2002.50,"v":5.28},{"s":"G","t":2002.72,"v":4.83},{"s":"G","t":2002.82,"v":4.12},{"s":"G","t":2002.90,"v":4.83},{"s":"G","t":2003.10,"v":5.1},{"s":"G","t":2003.17,"v":5.5},{"s":"G","t":2003.28,"v":5.67},{"s":"G","t":2003.39,"v":5.52},{"s":"G","t":2003.67,"v":4.86},{"s":"G","t":2003.81,"v":4.24},{"s":"G","t":2003.91,"v":4.2},{"s":"G","t":2004.15,"v":6.44},{"s":"G","t":2004.31,"v":6.24},{"s":"G","t":2004.40,"v":6.2},{"s":"G","t":2004.48,"v":5.9},{"s":"G","t":2004.60,"v":4.8},{"s":"G","t":2004.82,"v":4.53},{"s":"G","t":2004.92,"v":4.6},{"s":"G","t":2005.04,"v":5.78},{"s":"G","t":2005.18,"v":6.05},{"s":"G","t":2005.29,"v":6.24},{"s":"G","t":2005.38,"v":6.28},{"s":"G","t":2005.52,"v":6.0},{"s":"G","t":2005.65,"v":5.55},{"s":"G","t":2005.75,"v":5.52},{"s":"G","t":2005.87,"v":3.82},{"s":"G","t":2005.93,"v":3.46},{"s":"G","t":2006.09,"v":5.78},{"s":"G","t":2006.25,"v":7.33},{"s":"G","t":2006.29,"v":7.1},{"s":"G","t":2006.51,"v":5.78},{"s":"G","t":2006.63,"v":6.24},{"s":"G","t":2006.73,"v":5.52},{"s":"G","t":2006.85,"v":4.53},{"s":"G","t":2006.93,"v":5.43},{"s":"G","t":2007.06,"v":6.24},{"s":"G","t":2007.14,"v":6.24},{"s":"G","t":2007.26,"v":6.0},{"s":"G","t":2007.33,"v":5.6},{"s":"G","t":2007.50,"v":5.3},{"s":"G","t":2007.60,"v":5.25},{"s":"G","t":2007.80,"v":4.0},{"s":"G","t":2007.90,"v":5.5},{"s":"G","t":2007.99,"v":4.57},{"s":"G","t":2008.10,"v":4.8},{"s":"G","t":2008.18,"v":5.0},{"s":"G","t":2008.37,"v":4.97},{"s":"G","t":2008.52,"v":4.97},{"s":"G","t":2008.62,"v":4.77},{"s":"G","t":2008.70,"v":4.3},{"s":"G","t":2008.78,"v":4.12},{"s":"G","t":2008.92,"v":3.82},{"s":"G","t":2009.04,"v":4.38},{"s":"G","t":2009.10,"v":4.4},{"s":"G","t":2009.20,"v":5.3},{"s":"G","t":2009.30,"v":5.84},{"s":"G","t":2009.38,"v":5.9},{"s":"G","t":2009.46,"v":5.52},{"s":"G","t":2009.62,"v":4.6},{"s":"G","t":2009.78,"v":3.64},{"s":"G","t":2009.84,"v":3.88},{"s":"G","t":2009.90,"v":4.0},{"s":"G","t":2010.10,"v":5.8},{"s":"G","t":2010.18,"v":5.13},{"s":"G","t":2010.26,"v":5.8},{"s":"G","t":2010.32,"v":5.8},{"s":"G","t":2010.47,"v":5.13},{"s":"G","t":2010.52,"v":6.05},{"s":"G","t":2010.58,"v":5.52},{"s":"G","t":2010.66,"v":5.3},{"s":"G","t":2010.74,"v":4.62},{"s":"G","t":2010.83,"v":3.98},{"s":"G","t":2010.90,"v":4.21},{"s":"G","t":2011.00,"v":5.21},{"s":"G","t":2011.10,"v":5.52},{"s":"G","t":2011.19,"v":5.19},{"s":"G","t":2013.62,"v":4.8},{"s":"G","t":2013.75,"v":4.71},{"s":"G","t":2013.84,"v":4.86},{"s":"G","t":2014.00,"v":4.8},{"s":"G","t":2014.10,"v":4.97},{"s":"G","t":2014.20,"v":4.71},{"s":"G","t":2014.31,"v":4.97},{"s":"G","t":2014.39,"v":4.95},{"s":"G","t":2014.48,"v":4.77},{"s":"G","t":2014.56,"v":4.8},{"s":"G","t":2014.68,"v":5.0},{"s":"G","t":2014.76,"v":3.86},{"s":"G","t":2014.84,"v":4.12},{"s":"G","t":2015.03,"v":5.49},{"s":"G","t":2015.11,"v":5.49},{"s":"G","t":2015.20,"v":6.2},{"s":"G","t":2015.28,"v":5.9},{"s":"G","t":2015.35,"v":5.72},{"s":"G","t":2015.43,"v":5.72},{"s":"G","t":2015.54,"v":5.72},{"s":"G","t":2015.62,"v":5.43},{"s":"G","t":2015.73,"v":4.89},{"s":"G","t":2015.85,"v":4.71},{"s":"G","t":2016.02,"v":5.93},{"s":"G","t":2016.10,"v":5.9},{"s":"G","t":2016.18,"v":5.72},{"s":"G","t":2016.25,"v":5.6},{"s":"G","t":2016.39,"v":5.52},{"s":"G","t":2016.50,"v":5.43},{"s":"G","t":2016.63,"v":5.3},{"s":"G","t":2016.71,"v":4.97},{"s":"G","t":2016.79,"v":2.99},{"s":"G","t":2016.89,"v":5.84},{"s":"G","t":2017.04,"v":5.52},{"s":"G","t":2017.13,"v":6.6},{"s":"G","t":2017.21,"v":6.44},{"s":"G","t":2017.29,"v":6.44},{"s":"G","t":2017.39,"v":6.12},{"s":"G","t":2017.49,"v":6.6},{"s":"G","t":2017.59,"v":5.09},{"s":"G","t":2017.69,"v":4.24},{"s":"G","t":2017.81,"v":4.33},{"s":"G","t":2017.91,"v":4.5},{"s":"G","t":2018.05,"v":4.71},{"s":"G","t":2018.14,"v":4.62},{"s":"G","t":2018.26,"v":4.83},{"s":"G","t":2018.34,"v":4.89},{"s":"G","t":2018.45,"v":4.65},{"s":"G","t":2018.53,"v":4.71},{"s":"G","t":2018.58,"v":4.53},{"s":"G","t":2018.65,"v":4.6},{"s":"G","t":2018.79,"v":3.62},{"s":"G","t":2018.89,"v":3.86},{"s":"G","t":2019.05,"v":7.12},{"s":"G","t":2019.13,"v":6.85},{"s":"G","t":2019.21,"v":6.91},{"s":"G","t":2019.27,"v":6.52},{"s":"G","t":2019.33,"v":6.44},{"s":"G","t":2019.41,"v":6.24},{"s":"G","t":2019.53,"v":6.2},{"s":"G","t":2019.62,"v":6.12},{"s":"G","t":2019.75,"v":5.49},{"s":"G","t":2019.88,"v":5.4},{"s":"G","t":2020.04,"v":6.5},{"s":"G","t":2020.14,"v":6.8}
]
},
"spacing":46,
"resolve":{"scale":{"fill":"independent","shape":"independent"}},
"vconcat":[
{"width":1605,"height":281,"data":{"name":"cl"},
 "resolve":{"axis":{"x":"independent","y":"independent"}},
 "layer":[
  {"mark":{"type":"line","color":"black","strokeWidth":1},
   "encoding":{
    "x":{"field":"t","type":"quantitative","scale":{"domain":[1996,2020.8],"nice":false,"zero":false},
         "axis":{"orient":"bottom","title":null,"values":[1997,1998,1999,2000,2001,2002,2003,2004,2005,2006,2007,2008,2009,2010,2011,2012,2013,2014,2015,2016,2017,2018,2019,2020],"labelExpr":"substring(toString(datum.value),2)","grid":true,"gridColor":"black","gridDash":[1.5,3],"gridWidth":1,"tickSize":-8,"labelPadding":22,"labelDx":-6,"labelFlush":false,"labelOverlap":false}},
    "y":{"field":"v","type":"quantitative","scale":{"domain":[0,50],"nice":false},
         "axis":{"orient":"left","title":"Cl⁻ in mg/l","values":[0,10,20,30,40,50],"grid":true,"gridColor":"black","gridDash":[1.5,3],"gridWidth":1.5,"tickSize":-8,"labelPadding":17,"titlePadding":35}},
    "detail":{"field":"s"}}},
  {"transform":[{"filter":"datum.s == 'E'"}],
   "mark":{"type":"point","shape":"circle","filled":true,"size":75,"fill":"#ff0000","stroke":"black","strokeWidth":1,"opacity":1},
   "encoding":{
    "x":{"field":"t","type":"quantitative","axis":{"orient":"bottom","title":null,"values":{"expr":"sequence(1996,2020.81,1/12)"},"labels":false,"grid":false,"domain":false,"tickSize":-4}},
    "y":{"field":"v","type":"quantitative","axis":{"orient":"left","title":null,"values":{"expr":"sequence(0,50.1,2)"},"labels":false,"grid":false,"domain":false,"tickSize":-4}}}},
  {"transform":[{"filter":"datum.s == 'G'"}],
   "mark":{"type":"point","shape":"triangle-down","filled":true,"size":80,"fill":"#0000ff","stroke":"black","strokeWidth":1,"opacity":1},
   "encoding":{
    "x":{"field":"t","type":"quantitative","axis":null},
    "y":{"field":"v","type":"quantitative","axis":null}}},
  {"mark":{"type":"point","filled":true,"opacity":0,"size":74,"stroke":"black","strokeWidth":1},
   "encoding":{
    "x":{"field":"t","type":"quantitative","axis":null},
    "y":{"field":"v","type":"quantitative","axis":null},
    "fill":{"field":"s","type":"nominal","scale":{"domain":["E","G"],"range":["#ff0000","#0000ff"]},
      "legend":{"orient":"none","legendX":70,"legendY":37,"title":null,"padding":0,"labelExpr":"datum.value == 'E' ? 'Oder Einlauf' : 'Oder Grundablass'","labelFontSize":16.5,"labelColor":"black","symbolSize":74,"symbolOpacity":1,"symbolStrokeColor":"black","symbolStrokeWidth":1,"labelOffset":20,"rowPadding":6.5}},
    "shape":{"field":"s","type":"nominal","scale":{"domain":["E","G"],"range":["M-4.4,-0.12H-1V0.12H-4.4ZM1,-0.12H4.4V0.12H1ZM1,0A1,1,0,1,1,-1,0A1,1,0,1,1,1,0Z","M-4.4,-0.12H-0.55V0.12H-4.4ZM0.55,-0.12H4.4V0.12H0.55ZM0,0.87L-1,-0.87L1,-0.87Z"]},
      "legend":{"orient":"none","legendX":70,"legendY":37,"title":null,"padding":0,"labelExpr":"datum.value == 'E' ? 'Oder Einlauf' : 'Oder Grundablass'","labelFontSize":16.5,"labelColor":"black","symbolSize":74,"symbolOpacity":1,"symbolStrokeColor":"black","symbolStrokeWidth":1,"labelOffset":20,"rowPadding":6.5}}}}
 ]},
{"width":1605,"height":281,"data":{"name":"so"},
 "resolve":{"axis":{"x":"independent","y":"independent"}},
 "layer":[
  {"mark":{"type":"line","color":"black","strokeWidth":1},
   "encoding":{
    "x":{"field":"t","type":"quantitative","scale":{"domain":[1996,2020.8],"nice":false,"zero":false},
         "axis":{"orient":"bottom","title":null,"values":[1997,1998,1999,2000,2001,2002,2003,2004,2005,2006,2007,2008,2009,2010,2011,2012,2013,2014,2015,2016,2017,2018,2019,2020],"labelExpr":"substring(toString(datum.value),2)","grid":true,"gridColor":"black","gridDash":[1.5,3],"gridWidth":1,"tickSize":-8,"labelPadding":22,"labelDx":-6,"labelFlush":false,"labelOverlap":false}},
    "y":{"field":"v","type":"quantitative","scale":{"domain":[0,40],"nice":false},
         "axis":{"orient":"left","title":"SO₄²⁻ in mg/l","values":[0,10,20,30,40],"grid":true,"gridColor":"black","gridDash":[1.5,3],"gridWidth":1.5,"tickSize":-8,"labelPadding":17,"titlePadding":22.5}},
    "detail":{"field":"s"}}},
  {"transform":[{"filter":"datum.s == 'E'"}],
   "mark":{"type":"point","shape":"circle","filled":true,"size":75,"fill":"#ff0000","stroke":"black","strokeWidth":1,"opacity":1},
   "encoding":{
    "x":{"field":"t","type":"quantitative","axis":{"orient":"bottom","title":null,"values":{"expr":"sequence(1996,2020.81,1/12)"},"labels":false,"grid":false,"domain":false,"tickSize":-4}},
    "y":{"field":"v","type":"quantitative","axis":{"orient":"left","title":null,"values":{"expr":"sequence(0,40.1,2)"},"labels":false,"grid":false,"domain":false,"tickSize":-4}}}},
  {"transform":[{"filter":"datum.s == 'G'"}],
   "mark":{"type":"point","shape":"triangle-down","filled":true,"size":80,"fill":"#0000ff","stroke":"black","strokeWidth":1,"opacity":1},
   "encoding":{
    "x":{"field":"t","type":"quantitative","axis":null},
    "y":{"field":"v","type":"quantitative","axis":null}}}
 ]},
{"width":1605,"height":281,"data":{"name":"no"},
 "resolve":{"axis":{"x":"independent","y":"independent"}},
 "layer":[
  {"mark":{"type":"line","color":"black","strokeWidth":1},
   "encoding":{
    "x":{"field":"t","type":"quantitative","scale":{"domain":[1996,2020.8],"nice":false,"zero":false},
         "axis":{"orient":"bottom","title":null,"values":[1997,1998,1999,2000,2001,2002,2003,2004,2005,2006,2007,2008,2009,2010,2011,2012,2013,2014,2015,2016,2017,2018,2019,2020],"labelExpr":"substring(toString(datum.value),2)","grid":true,"gridColor":"black","gridDash":[1.5,3],"gridWidth":1,"tickSize":-8,"labelPadding":22,"labelDx":-6,"labelFlush":false,"labelOverlap":false}},
    "y":{"field":"v","type":"quantitative","scale":{"domain":[0,10],"nice":false},
         "axis":{"orient":"left","title":"NO₃⁻ in mg/l","values":[0,2,4,6,8,10],"grid":true,"gridColor":"black","gridDash":[1.5,3],"gridWidth":1.5,"tickSize":-8,"labelPadding":17,"titlePadding":18.4}},
    "detail":{"field":"s"}}},
  {"transform":[{"filter":"datum.s == 'E'"}],
   "mark":{"type":"point","shape":"circle","filled":true,"size":75,"fill":"#ff0000","stroke":"black","strokeWidth":1,"opacity":1},
   "encoding":{
    "x":{"field":"t","type":"quantitative","axis":{"orient":"bottom","title":null,"values":{"expr":"sequence(1996,2020.81,1/12)"},"labels":false,"grid":false,"domain":false,"tickSize":-4}},
    "y":{"field":"v","type":"quantitative","axis":{"orient":"left","title":null,"values":{"expr":"sequence(0,10.01,0.4)"},"labels":false,"grid":false,"domain":false,"tickSize":-4}}}},
  {"transform":[{"filter":"datum.s == 'G'"}],
   "mark":{"type":"point","shape":"triangle-down","filled":true,"size":80,"fill":"#0000ff","stroke":"black","strokeWidth":1,"opacity":1},
   "encoding":{
    "x":{"field":"t","type":"quantitative","axis":null},
    "y":{"field":"v","type":"quantitative","axis":null}}}
 ]}
]
}
